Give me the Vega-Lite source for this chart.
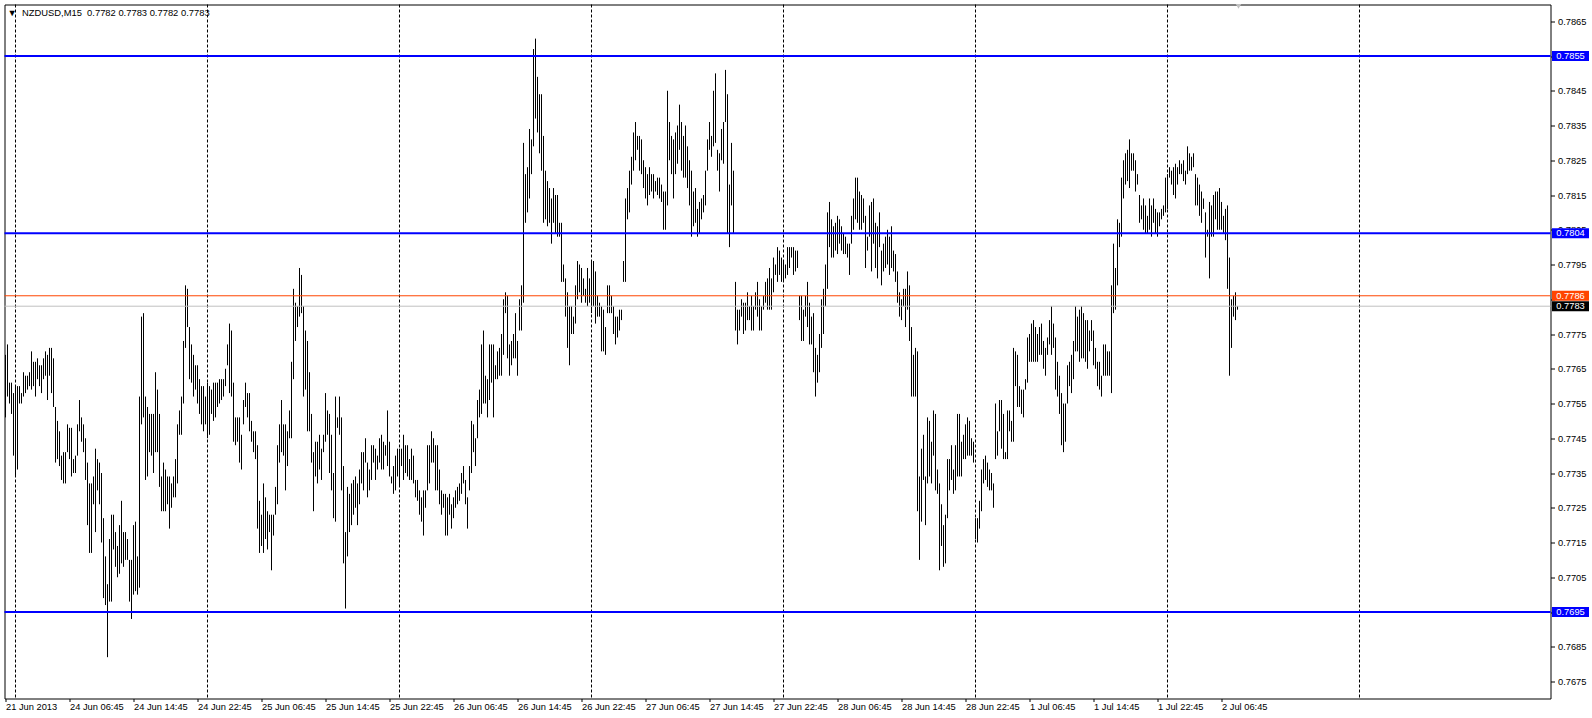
{
"$schema": "https://vega.github.io/schema/vega-lite/v6.json",
"width": 1546, "height": 694,
"autosize": {"type": "none"},
"padding": {"left": 4.5, "top": 4.5, "right": 41.5, "bottom": 19.5},
"background": "white",
"config": {"view": {"stroke": "black", "strokeWidth": 1, "fill": "white"}, "font": "Liberation Sans",
  "axis": {"labelOverlap": false, "labelFlush": false, "labelBound": false, "grid": false, "domain": false, "title": null, "tickColor": "black", "labelColor": "black", "labelFont": "Liberation Sans", "labelFontSize": 9.3}},
"title": {"text": "\u25bc\u00a0\u00a0NZDUSD,M15\u00a0\u00a00.7782 0.7783 0.7782 0.7783", "anchor": "start", "frame": "group", "orient": "top", "offset": -21, "dx": 3, "fontSize": 9.4, "font": "Liberation Sans", "fontWeight": "normal", "color": "black", "baseline": "alphabetic"},
"datasets": {
"grid": [{"i":5},{"i":101},{"i":197},{"i":293},{"i":389},{"i":485},{"i":581},{"i":677}],
"blue": [{"p":0.7855},{"p":0.7804},{"p":0.7695}],
"ask": [{"p":0.7786}],
"bid": [{"p":0.7783}],
"bars": [
{"i":0,"h":0.7769,"l":0.7751},{"i":1,"h":0.7772,"l":0.7757},{"i":2,"h":0.7761,"l":0.7755},{"i":3,"h":0.7761,"l":0.7752},{"i":4,"h":0.7758,"l":0.7740},{"i":5,"h":0.7760,"l":0.7734},{"i":6,"h":0.7760,"l":0.7736},{"i":7,"h":0.7760,"l":0.7755},{"i":8,"h":0.7758,"l":0.7755},{"i":9,"h":0.7764,"l":0.7757},
{"i":10,"h":0.7763,"l":0.7758},{"i":11,"h":0.7763,"l":0.7759},{"i":12,"h":0.7764,"l":0.7760},{"i":13,"h":0.7770,"l":0.7759},{"i":14,"h":0.7767,"l":0.7760},{"i":15,"h":0.7767,"l":0.7757},{"i":16,"h":0.7768,"l":0.7762},{"i":17,"h":0.7766,"l":0.7760},{"i":18,"h":0.7766,"l":0.7758},{"i":19,"h":0.7768,"l":0.7762},
{"i":20,"h":0.7770,"l":0.7763},{"i":21,"h":0.7769,"l":0.7756},{"i":22,"h":0.7771,"l":0.7763},{"i":23,"h":0.7771,"l":0.7758},{"i":24,"h":0.7768,"l":0.7754},{"i":25,"h":0.7754,"l":0.7738},{"i":26,"h":0.7750,"l":0.7739},{"i":27,"h":0.7747,"l":0.7737},{"i":28,"h":0.7740,"l":0.7733},{"i":29,"h":0.7741,"l":0.7732},
{"i":30,"h":0.7741,"l":0.7732},{"i":31,"h":0.7749,"l":0.7741},{"i":32,"h":0.7748,"l":0.7739},{"i":33,"h":0.7748,"l":0.7734},{"i":34,"h":0.7739,"l":0.7735},{"i":35,"h":0.7740,"l":0.7735},{"i":36,"h":0.7749,"l":0.7740},{"i":37,"h":0.7756,"l":0.7747},{"i":38,"h":0.7751,"l":0.7744},{"i":39,"h":0.7749,"l":0.7741},
{"i":40,"h":0.7745,"l":0.7733},{"i":41,"h":0.7738,"l":0.7720},{"i":42,"h":0.7732,"l":0.7712},{"i":43,"h":0.7732,"l":0.7712},{"i":44,"h":0.7734,"l":0.7726},{"i":45,"h":0.7742,"l":0.7718},{"i":46,"h":0.7739,"l":0.7730},{"i":47,"h":0.7738,"l":0.7726},{"i":48,"h":0.7735,"l":0.7715},{"i":49,"h":0.7722,"l":0.7699},
{"i":50,"h":0.7711,"l":0.7697},{"i":51,"h":0.7703,"l":0.7682},{"i":52,"h":0.7716,"l":0.7698},{"i":53,"h":0.7723,"l":0.7698},{"i":54,"h":0.7723,"l":0.7713},{"i":55,"h":0.7718,"l":0.7708},{"i":56,"h":0.7714,"l":0.7705},{"i":57,"h":0.7720,"l":0.7706},{"i":58,"h":0.7727,"l":0.7709},{"i":59,"h":0.7718,"l":0.7708},
{"i":60,"h":0.7718,"l":0.7710},{"i":61,"h":0.7716,"l":0.7710},{"i":62,"h":0.7710,"l":0.7698},{"i":63,"h":0.7710,"l":0.7693},{"i":64,"h":0.7720,"l":0.7700},{"i":65,"h":0.7721,"l":0.7701},{"i":66,"h":0.7711,"l":0.7700},{"i":67,"h":0.7757,"l":0.7702},{"i":68,"h":0.7780,"l":0.7749},{"i":69,"h":0.7781,"l":0.7751},
{"i":70,"h":0.7757,"l":0.7733},{"i":71,"h":0.7754,"l":0.7734},{"i":72,"h":0.7752,"l":0.7741},{"i":73,"h":0.7752,"l":0.7740},{"i":74,"h":0.7752,"l":0.7735},{"i":75,"h":0.7764,"l":0.7741},{"i":76,"h":0.7759,"l":0.7741},{"i":77,"h":0.7752,"l":0.7731},{"i":78,"h":0.7734,"l":0.7724},{"i":79,"h":0.7738,"l":0.7724},
{"i":80,"h":0.7736,"l":0.7724},{"i":81,"h":0.7734,"l":0.7726},{"i":82,"h":0.7734,"l":0.7719},{"i":83,"h":0.7732,"l":0.7725},{"i":84,"h":0.7734,"l":0.7728},{"i":85,"h":0.7739,"l":0.7728},{"i":86,"h":0.7749,"l":0.7732},{"i":87,"h":0.7753,"l":0.7746},{"i":88,"h":0.7757,"l":0.7746},{"i":89,"h":0.7773,"l":0.7755},
{"i":90,"h":0.7789,"l":0.7771},{"i":91,"h":0.7788,"l":0.7777},{"i":92,"h":0.7777,"l":0.7762},{"i":93,"h":0.7772,"l":0.7761},{"i":94,"h":0.7769,"l":0.7757},{"i":95,"h":0.7766,"l":0.7759},{"i":96,"h":0.7766,"l":0.7755},{"i":97,"h":0.7762,"l":0.7752},{"i":98,"h":0.7760,"l":0.7749},{"i":99,"h":0.7760,"l":0.7747},
{"i":100,"h":0.7757,"l":0.7749},{"i":101,"h":0.7761,"l":0.7745},{"i":102,"h":0.7760,"l":0.7746},{"i":103,"h":0.7759,"l":0.7752},{"i":104,"h":0.7761,"l":0.7750},{"i":105,"h":0.7761,"l":0.7751},{"i":106,"h":0.7761,"l":0.7754},{"i":107,"h":0.7762,"l":0.7755},{"i":108,"h":0.7762,"l":0.7756},{"i":109,"h":0.7762,"l":0.7757},
{"i":110,"h":0.7765,"l":0.7760},{"i":111,"h":0.7772,"l":0.7766},{"i":112,"h":0.7778,"l":0.7758},{"i":113,"h":0.7776,"l":0.7757},{"i":114,"h":0.7761,"l":0.7744},{"i":115,"h":0.7751,"l":0.7743},{"i":116,"h":0.7751,"l":0.7744},{"i":117,"h":0.7751,"l":0.7738},{"i":118,"h":0.7746,"l":0.7736},{"i":119,"h":0.7756,"l":0.7749},
{"i":120,"h":0.7761,"l":0.7754},{"i":121,"h":0.7758,"l":0.7751},{"i":122,"h":0.7758,"l":0.7747},{"i":123,"h":0.7750,"l":0.7744},{"i":124,"h":0.7747,"l":0.7741},{"i":125,"h":0.7747,"l":0.7739},{"i":126,"h":0.7743,"l":0.7719},{"i":127,"h":0.7727,"l":0.7712},{"i":128,"h":0.7723,"l":0.7714},{"i":129,"h":0.7732,"l":0.7712},
{"i":130,"h":0.7728,"l":0.7716},{"i":131,"h":0.7724,"l":0.7713},{"i":132,"h":0.7723,"l":0.7718},{"i":133,"h":0.7723,"l":0.7707},{"i":134,"h":0.7723,"l":0.7717},{"i":135,"h":0.7731,"l":0.7723},{"i":136,"h":0.7743,"l":0.7726},{"i":137,"h":0.7749,"l":0.7738},{"i":138,"h":0.7756,"l":0.7741},{"i":139,"h":0.7749,"l":0.7740},
{"i":140,"h":0.7749,"l":0.7730},{"i":141,"h":0.7747,"l":0.7737},{"i":142,"h":0.7753,"l":0.7745},{"i":143,"h":0.7767,"l":0.7745},{"i":144,"h":0.7788,"l":0.7762},{"i":145,"h":0.7784,"l":0.7773},{"i":146,"h":0.7783,"l":0.7777},{"i":147,"h":0.7794,"l":0.7780},{"i":148,"h":0.7792,"l":0.7781},{"i":149,"h":0.7783,"l":0.7757},
{"i":150,"h":0.7776,"l":0.7759},{"i":151,"h":0.7773,"l":0.7747},{"i":152,"h":0.7764,"l":0.7747},{"i":153,"h":0.7752,"l":0.7738},{"i":154,"h":0.7741,"l":0.7724},{"i":155,"h":0.7744,"l":0.7734},{"i":156,"h":0.7744,"l":0.7732},{"i":157,"h":0.7746,"l":0.7736},{"i":158,"h":0.7742,"l":0.7733},{"i":159,"h":0.7746,"l":0.7741},
{"i":160,"h":0.7758,"l":0.7744},{"i":161,"h":0.7753,"l":0.7746},{"i":162,"h":0.7752,"l":0.7735},{"i":163,"h":0.7746,"l":0.7730},{"i":164,"h":0.7735,"l":0.7722},{"i":165,"h":0.7757,"l":0.7721},{"i":166,"h":0.7751,"l":0.7748},{"i":167,"h":0.7757,"l":0.7746},{"i":168,"h":0.7751,"l":0.7730},{"i":169,"h":0.7737,"l":0.7709},
{"i":170,"h":0.7718,"l":0.7696},{"i":171,"h":0.7731,"l":0.7711},{"i":172,"h":0.7729,"l":0.7718},{"i":173,"h":0.7732,"l":0.7720},{"i":174,"h":0.7733,"l":0.7723},{"i":175,"h":0.7734,"l":0.7725},{"i":176,"h":0.7732,"l":0.7720},{"i":177,"h":0.7736,"l":0.7726},{"i":178,"h":0.7741,"l":0.7732},{"i":179,"h":0.7741,"l":0.7730},
{"i":180,"h":0.7745,"l":0.7738},{"i":181,"h":0.7738,"l":0.7728},{"i":182,"h":0.7736,"l":0.7730},{"i":183,"h":0.7743,"l":0.7733},{"i":184,"h":0.7743,"l":0.7738},{"i":185,"h":0.7742,"l":0.7733},{"i":186,"h":0.7740,"l":0.7736},{"i":187,"h":0.7745,"l":0.7738},{"i":188,"h":0.7746,"l":0.7736},{"i":189,"h":0.7744,"l":0.7736},
{"i":190,"h":0.7743,"l":0.7740},{"i":191,"h":0.7753,"l":0.7737},{"i":192,"h":0.7744,"l":0.7734},{"i":193,"h":0.7734,"l":0.7732},{"i":194,"h":0.7737,"l":0.7729},{"i":195,"h":0.7740,"l":0.7730},{"i":196,"h":0.7742,"l":0.7734},{"i":197,"h":0.7742,"l":0.7731},{"i":198,"h":0.7742,"l":0.7737},{"i":199,"h":0.7746,"l":0.7733},
{"i":200,"h":0.7743,"l":0.7735},{"i":201,"h":0.7743,"l":0.7734},{"i":202,"h":0.7739,"l":0.7733},{"i":203,"h":0.7742,"l":0.7733},{"i":204,"h":0.7740,"l":0.7732},{"i":205,"h":0.7733,"l":0.7728},{"i":206,"h":0.7733,"l":0.7727},{"i":207,"h":0.7730,"l":0.7723},{"i":208,"h":0.7728,"l":0.7721},{"i":209,"h":0.7730,"l":0.7717},
{"i":210,"h":0.7730,"l":0.7725},{"i":211,"h":0.7743,"l":0.7730},{"i":212,"h":0.7743,"l":0.7732},{"i":213,"h":0.7747,"l":0.7738},{"i":214,"h":0.7745,"l":0.7738},{"i":215,"h":0.7743,"l":0.7730},{"i":216,"h":0.7743,"l":0.7730},{"i":217,"h":0.7736,"l":0.7726},{"i":218,"h":0.7730,"l":0.7723},{"i":219,"h":0.7729,"l":0.7725},
{"i":220,"h":0.7729,"l":0.7717},{"i":221,"h":0.7728,"l":0.7717},{"i":222,"h":0.7729,"l":0.7723},{"i":223,"h":0.7726,"l":0.7719},{"i":224,"h":0.7728,"l":0.7722},{"i":225,"h":0.7730,"l":0.7725},{"i":226,"h":0.7731,"l":0.7726},{"i":227,"h":0.7732,"l":0.7727},{"i":228,"h":0.7735,"l":0.7729},{"i":229,"h":0.7737,"l":0.7732},
{"i":230,"h":0.7733,"l":0.7726},{"i":231,"h":0.7728,"l":0.7719},{"i":232,"h":0.7737,"l":0.7730},{"i":233,"h":0.7750,"l":0.7735},{"i":234,"h":0.7749,"l":0.7741},{"i":235,"h":0.7745,"l":0.7737},{"i":236,"h":0.7756,"l":0.7745},{"i":237,"h":0.7759,"l":0.7751},{"i":238,"h":0.7772,"l":0.7752},{"i":239,"h":0.7776,"l":0.7755},
{"i":240,"h":0.7763,"l":0.7755},{"i":241,"h":0.7762,"l":0.7751},{"i":242,"h":0.7772,"l":0.7756},{"i":243,"h":0.7772,"l":0.7761},{"i":244,"h":0.7772,"l":0.7751},{"i":245,"h":0.7766,"l":0.7762},{"i":246,"h":0.7770,"l":0.7762},{"i":247,"h":0.7771,"l":0.7763},{"i":248,"h":0.7775,"l":0.7763},{"i":249,"h":0.7785,"l":0.7769},
{"i":250,"h":0.7787,"l":0.7781},{"i":251,"h":0.7786,"l":0.7768},{"i":252,"h":0.7772,"l":0.7763},{"i":253,"h":0.7773,"l":0.7766},{"i":254,"h":0.7775,"l":0.7768},{"i":255,"h":0.7781,"l":0.7768},{"i":256,"h":0.7773,"l":0.7763},{"i":257,"h":0.7785,"l":0.7776},{"i":258,"h":0.7789,"l":0.7776},{"i":259,"h":0.7830,"l":0.7784},
{"i":260,"h":0.7821,"l":0.7807},{"i":261,"h":0.7823,"l":0.7810},{"i":262,"h":0.7834,"l":0.7814},{"i":263,"h":0.7831,"l":0.7821},{"i":264,"h":0.7857,"l":0.7829},{"i":265,"h":0.7860,"l":0.7837},{"i":266,"h":0.7849,"l":0.7833},{"i":267,"h":0.7844,"l":0.7827},{"i":268,"h":0.7844,"l":0.7822},{"i":269,"h":0.7832,"l":0.7807},
{"i":270,"h":0.7822,"l":0.7808},{"i":271,"h":0.7819,"l":0.7806},{"i":272,"h":0.7817,"l":0.7807},{"i":273,"h":0.7814,"l":0.7801},{"i":274,"h":0.7817,"l":0.7807},{"i":275,"h":0.7815,"l":0.7804},{"i":276,"h":0.7815,"l":0.7803},{"i":277,"h":0.7807,"l":0.7803},{"i":278,"h":0.7807,"l":0.7790},{"i":279,"h":0.7795,"l":0.7790},
{"i":280,"h":0.7791,"l":0.7780},{"i":281,"h":0.7787,"l":0.7771},{"i":282,"h":0.7783,"l":0.7766},{"i":283,"h":0.7783,"l":0.7775},{"i":284,"h":0.7780,"l":0.7775},{"i":285,"h":0.7789,"l":0.7778},{"i":286,"h":0.7796,"l":0.7785},{"i":287,"h":0.7795,"l":0.7787},{"i":288,"h":0.7794,"l":0.7784},{"i":289,"h":0.7791,"l":0.7786},
{"i":290,"h":0.7788,"l":0.7784},{"i":291,"h":0.7794,"l":0.7783},{"i":292,"h":0.7791,"l":0.7784},{"i":293,"h":0.7796,"l":0.7781},{"i":294,"h":0.7796,"l":0.7783},{"i":295,"h":0.7793,"l":0.7778},{"i":296,"h":0.7786,"l":0.7780},{"i":297,"h":0.7784,"l":0.7780},{"i":298,"h":0.7783,"l":0.7770},{"i":299,"h":0.7782,"l":0.7770},
{"i":300,"h":0.7777,"l":0.7769},{"i":301,"h":0.7789,"l":0.7781},{"i":302,"h":0.7789,"l":0.7781},{"i":303,"h":0.7786,"l":0.7781},{"i":304,"h":0.7783,"l":0.7775},{"i":305,"h":0.7780,"l":0.7772},{"i":306,"h":0.7780,"l":0.7774},{"i":307,"h":0.7782,"l":0.7776},{"i":308,"h":0.7782,"l":0.7779},{"i":309,"h":0.7796,"l":0.7790},
{"i":310,"h":0.7814,"l":0.7790},{"i":311,"h":0.7817,"l":0.7808},{"i":312,"h":0.7822,"l":0.7810},{"i":313,"h":0.7826,"l":0.7818},{"i":314,"h":0.7833,"l":0.7822},{"i":315,"h":0.7836,"l":0.7825},{"i":316,"h":0.7832,"l":0.7828},{"i":317,"h":0.7832,"l":0.7822},{"i":318,"h":0.7831,"l":0.7821},{"i":319,"h":0.7825,"l":0.7817},
{"i":320,"h":0.7823,"l":0.7814},{"i":321,"h":0.7821,"l":0.7812},{"i":322,"h":0.7823,"l":0.7815},{"i":323,"h":0.7821,"l":0.7816},{"i":324,"h":0.7821,"l":0.7814},{"i":325,"h":0.7819,"l":0.7816},{"i":326,"h":0.7820,"l":0.7815},{"i":327,"h":0.7820,"l":0.7814},{"i":328,"h":0.7818,"l":0.7813},{"i":329,"h":0.7816,"l":0.7805},
{"i":330,"h":0.7816,"l":0.7805},{"i":331,"h":0.7845,"l":0.7812},{"i":332,"h":0.7836,"l":0.7825},{"i":333,"h":0.7832,"l":0.7821},{"i":334,"h":0.7831,"l":0.7814},{"i":335,"h":0.7833,"l":0.7821},{"i":336,"h":0.7835,"l":0.7824},{"i":337,"h":0.7841,"l":0.7828},{"i":338,"h":0.7836,"l":0.7822},{"i":339,"h":0.7832,"l":0.7820},
{"i":340,"h":0.7835,"l":0.7820},{"i":341,"h":0.7829,"l":0.7817},{"i":342,"h":0.7825,"l":0.7812},{"i":343,"h":0.7822,"l":0.7803},{"i":344,"h":0.7816,"l":0.7806},{"i":345,"h":0.7817,"l":0.7807},{"i":346,"h":0.7811,"l":0.7803},{"i":347,"h":0.7813,"l":0.7804},{"i":348,"h":0.7814,"l":0.7808},{"i":349,"h":0.7815,"l":0.7810},
{"i":350,"h":0.7822,"l":0.7812},{"i":351,"h":0.7831,"l":0.7822},{"i":352,"h":0.7836,"l":0.7828},{"i":353,"h":0.7832,"l":0.7826},{"i":354,"h":0.7845,"l":0.7829},{"i":355,"h":0.7850,"l":0.7830},{"i":356,"h":0.7828,"l":0.7822},{"i":357,"h":0.7827,"l":0.7816},{"i":358,"h":0.7834,"l":0.7825},{"i":359,"h":0.7836,"l":0.7824},
{"i":360,"h":0.7851,"l":0.7836},{"i":361,"h":0.7844,"l":0.7804},{"i":362,"h":0.7818,"l":0.7800},{"i":363,"h":0.7830,"l":0.7812},{"i":364,"h":0.7822,"l":0.7804},{"i":365,"h":0.7790,"l":0.7776},{"i":366,"h":0.7782,"l":0.7772},{"i":367,"h":0.7782,"l":0.7776},{"i":368,"h":0.7785,"l":0.7780},{"i":369,"h":0.7784,"l":0.7775},
{"i":370,"h":0.7784,"l":0.7776},{"i":371,"h":0.7787,"l":0.7779},{"i":372,"h":0.7783,"l":0.7779},{"i":373,"h":0.7786,"l":0.7776},{"i":374,"h":0.7783,"l":0.7776},{"i":375,"h":0.7787,"l":0.7782},{"i":376,"h":0.7790,"l":0.7780},{"i":377,"h":0.7785,"l":0.7776},{"i":378,"h":0.7783,"l":0.7776},{"i":379,"h":0.7786,"l":0.7782},
{"i":380,"h":0.7790,"l":0.7784},{"i":381,"h":0.7791,"l":0.7782},{"i":382,"h":0.7794,"l":0.7782},{"i":383,"h":0.7791,"l":0.7782},{"i":384,"h":0.7797,"l":0.7787},{"i":385,"h":0.7795,"l":0.7792},{"i":386,"h":0.7800,"l":0.7790},{"i":387,"h":0.7799,"l":0.7792},{"i":388,"h":0.7797,"l":0.7790},{"i":389,"h":0.7796,"l":0.7790},
{"i":390,"h":0.7795,"l":0.7791},{"i":391,"h":0.7800,"l":0.7792},{"i":392,"h":0.7800,"l":0.7794},{"i":393,"h":0.7800,"l":0.7797},{"i":394,"h":0.7800,"l":0.7792},{"i":395,"h":0.7799,"l":0.7793},{"i":396,"h":0.7799,"l":0.7794},{"i":397,"h":0.7786,"l":0.7779},{"i":398,"h":0.7786,"l":0.7773},{"i":399,"h":0.7782,"l":0.7773},
{"i":400,"h":0.7786,"l":0.7780},{"i":401,"h":0.7790,"l":0.7777},{"i":402,"h":0.7784,"l":0.7772},{"i":403,"h":0.7780,"l":0.7772},{"i":404,"h":0.7781,"l":0.7764},{"i":405,"h":0.7771,"l":0.7757},{"i":406,"h":0.7769,"l":0.7761},{"i":407,"h":0.7775,"l":0.7764},{"i":408,"h":0.7785,"l":0.7771},{"i":409,"h":0.7788,"l":0.7775},
{"i":410,"h":0.7795,"l":0.7783},{"i":411,"h":0.7810,"l":0.7788},{"i":412,"h":0.7813,"l":0.7800},{"i":413,"h":0.7808,"l":0.7797},{"i":414,"h":0.7806,"l":0.7797},{"i":415,"h":0.7807,"l":0.7799},{"i":416,"h":0.7809,"l":0.7798},{"i":417,"h":0.7808,"l":0.7801},{"i":418,"h":0.7806,"l":0.7799},{"i":419,"h":0.7804,"l":0.7798},
{"i":420,"h":0.7803,"l":0.7798},{"i":421,"h":0.7801,"l":0.7797},{"i":422,"h":0.7801,"l":0.7792},{"i":423,"h":0.7809,"l":0.7801},{"i":424,"h":0.7814,"l":0.7805},{"i":425,"h":0.7820,"l":0.7808},{"i":426,"h":0.7820,"l":0.7807},{"i":427,"h":0.7816,"l":0.7805},{"i":428,"h":0.7815,"l":0.7805},{"i":429,"h":0.7814,"l":0.7807},
{"i":430,"h":0.7809,"l":0.7794},{"i":431,"h":0.7803,"l":0.7799},{"i":432,"h":0.7812,"l":0.7803},{"i":433,"h":0.7813,"l":0.7793},{"i":434,"h":0.7814,"l":0.7801},{"i":435,"h":0.7807,"l":0.7794},{"i":436,"h":0.7806,"l":0.7791},{"i":437,"h":0.7810,"l":0.7800},{"i":438,"h":0.7799,"l":0.7789},{"i":439,"h":0.7801,"l":0.7793},
{"i":440,"h":0.7803,"l":0.7794},{"i":441,"h":0.7805,"l":0.7795},{"i":442,"h":0.7803,"l":0.7792},{"i":443,"h":0.7806,"l":0.7794},{"i":444,"h":0.7799,"l":0.7793},{"i":445,"h":0.7798,"l":0.7790},{"i":446,"h":0.7793,"l":0.7784},{"i":447,"h":0.7787,"l":0.7780},{"i":448,"h":0.7785,"l":0.7779},{"i":449,"h":0.7788,"l":0.7783},
{"i":450,"h":0.7788,"l":0.7777},{"i":451,"h":0.7793,"l":0.7782},{"i":452,"h":0.7789,"l":0.7773},{"i":453,"h":0.7777,"l":0.7757},{"i":454,"h":0.7769,"l":0.7757},{"i":455,"h":0.7771,"l":0.7757},{"i":456,"h":0.7770,"l":0.7724},{"i":457,"h":0.7734,"l":0.7710},{"i":458,"h":0.7742,"l":0.7721},{"i":459,"h":0.7746,"l":0.7733},
{"i":460,"h":0.7734,"l":0.7720},{"i":461,"h":0.7751,"l":0.7732},{"i":462,"h":0.7750,"l":0.7734},{"i":463,"h":0.7744,"l":0.7732},{"i":464,"h":0.7753,"l":0.7740},{"i":465,"h":0.7752,"l":0.7730},{"i":466,"h":0.7736,"l":0.7729},{"i":467,"h":0.7732,"l":0.7707},{"i":468,"h":0.7726,"l":0.7714},{"i":469,"h":0.7720,"l":0.7708},
{"i":470,"h":0.7723,"l":0.7709},{"i":471,"h":0.7739,"l":0.7722},{"i":472,"h":0.7739,"l":0.7730},{"i":473,"h":0.7743,"l":0.7733},{"i":474,"h":0.7736,"l":0.7729},{"i":475,"h":0.7743,"l":0.7730},{"i":476,"h":0.7752,"l":0.7734},{"i":477,"h":0.7752,"l":0.7734},{"i":478,"h":0.7744,"l":0.7734},{"i":479,"h":0.7746,"l":0.7739},
{"i":480,"h":0.7749,"l":0.7739},{"i":481,"h":0.7751,"l":0.7740},{"i":482,"h":0.7750,"l":0.7740},{"i":483,"h":0.7745,"l":0.7740},{"i":484,"h":0.7744,"l":0.7738},{"i":485,"h":0.7722,"l":0.7716},{"i":486,"h":0.7722,"l":0.7715},{"i":487,"h":0.7727,"l":0.7719},{"i":488,"h":0.7736,"l":0.7724},{"i":489,"h":0.7739,"l":0.7732},
{"i":490,"h":0.7740,"l":0.7733},{"i":491,"h":0.7738,"l":0.7731},{"i":492,"h":0.7736,"l":0.7730},{"i":493,"h":0.7735,"l":0.7730},{"i":494,"h":0.7732,"l":0.7725},{"i":495,"h":0.7755,"l":0.7739},{"i":496,"h":0.7747,"l":0.7740},{"i":497,"h":0.7756,"l":0.7747},{"i":498,"h":0.7756,"l":0.7742},{"i":499,"h":0.7752,"l":0.7739},
{"i":500,"h":0.7741,"l":0.7739},{"i":501,"h":0.7753,"l":0.7739},{"i":502,"h":0.7753,"l":0.7747},{"i":503,"h":0.7750,"l":0.7744},{"i":504,"h":0.7771,"l":0.7744},{"i":505,"h":0.7770,"l":0.7760},{"i":506,"h":0.7769,"l":0.7754},{"i":507,"h":0.7760,"l":0.7754},{"i":508,"h":0.7759,"l":0.7752},{"i":509,"h":0.7759,"l":0.7751},
{"i":510,"h":0.7762,"l":0.7759},{"i":511,"h":0.7774,"l":0.7761},{"i":512,"h":0.7775,"l":0.7767},{"i":513,"h":0.7778,"l":0.7767},{"i":514,"h":0.7779,"l":0.7767},{"i":515,"h":0.7777,"l":0.7767},{"i":516,"h":0.7775,"l":0.7767},{"i":517,"h":0.7777,"l":0.7769},{"i":518,"h":0.7778,"l":0.7769},{"i":519,"h":0.7773,"l":0.7765},
{"i":520,"h":0.7771,"l":0.7763},{"i":521,"h":0.7774,"l":0.7769},{"i":522,"h":0.7779,"l":0.7772},{"i":523,"h":0.7783,"l":0.7769},{"i":524,"h":0.7778,"l":0.7771},{"i":525,"h":0.7774,"l":0.7759},{"i":526,"h":0.7767,"l":0.7757},{"i":527,"h":0.7763,"l":0.7752},{"i":528,"h":0.7758,"l":0.7743},{"i":529,"h":0.7755,"l":0.7741},
{"i":530,"h":0.7755,"l":0.7744},{"i":531,"h":0.7766,"l":0.7755},{"i":532,"h":0.7767,"l":0.7760},{"i":533,"h":0.7769,"l":0.7758},{"i":534,"h":0.7773,"l":0.7762},{"i":535,"h":0.7783,"l":0.7770},{"i":536,"h":0.7780,"l":0.7770},{"i":537,"h":0.7782,"l":0.7767},{"i":538,"h":0.7783,"l":0.7768},{"i":539,"h":0.7781,"l":0.7768},
{"i":540,"h":0.7779,"l":0.7767},{"i":541,"h":0.7779,"l":0.7765},{"i":542,"h":0.7776,"l":0.7770},{"i":543,"h":0.7779,"l":0.7773},{"i":544,"h":0.7776,"l":0.7766},{"i":545,"h":0.7771,"l":0.7765},{"i":546,"h":0.7767,"l":0.7760},{"i":547,"h":0.7767,"l":0.7759},{"i":548,"h":0.7763,"l":0.7757},{"i":549,"h":0.7772,"l":0.7763},
{"i":550,"h":0.7772,"l":0.7763},{"i":551,"h":0.7770,"l":0.7763},{"i":552,"h":0.7770,"l":0.7763},{"i":553,"h":0.7789,"l":0.7758},{"i":554,"h":0.7801,"l":0.7781},{"i":555,"h":0.7794,"l":0.7782},{"i":556,"h":0.7808,"l":0.7789},{"i":557,"h":0.7807,"l":0.7800},{"i":558,"h":0.7820,"l":0.7803},{"i":559,"h":0.7825,"l":0.7814},
{"i":560,"h":0.7827,"l":0.7818},{"i":561,"h":0.7828,"l":0.7819},{"i":562,"h":0.7831,"l":0.7817},{"i":563,"h":0.7827,"l":0.7822},{"i":564,"h":0.7827,"l":0.7822},{"i":565,"h":0.7825,"l":0.7816},{"i":566,"h":0.7821,"l":0.7818},{"i":567,"h":0.7815,"l":0.7807},{"i":568,"h":0.7812,"l":0.7808},{"i":569,"h":0.7814,"l":0.7805},
{"i":570,"h":0.7812,"l":0.7804},{"i":571,"h":0.7809,"l":0.7804},{"i":572,"h":0.7814,"l":0.7805},{"i":573,"h":0.7812,"l":0.7803},{"i":574,"h":0.7814,"l":0.7807},{"i":575,"h":0.7811,"l":0.7804},{"i":576,"h":0.7810,"l":0.7803},{"i":577,"h":0.7810,"l":0.7806},{"i":578,"h":0.7811,"l":0.7808},{"i":579,"h":0.7812,"l":0.7809},
{"i":580,"h":0.7820,"l":0.7810},{"i":581,"h":0.7821,"l":0.7811},{"i":582,"h":0.7823,"l":0.7820},{"i":583,"h":0.7822,"l":0.7818},{"i":584,"h":0.7823,"l":0.7815},{"i":585,"h":0.7824,"l":0.7814},{"i":586,"h":0.7823,"l":0.7818},{"i":587,"h":0.7825,"l":0.7821},{"i":588,"h":0.7824,"l":0.7821},{"i":589,"h":0.7825,"l":0.7819},
{"i":590,"h":0.7822,"l":0.7818},{"i":591,"h":0.7829,"l":0.7821},{"i":592,"h":0.7827,"l":0.7822},{"i":593,"h":0.7826,"l":0.7822},{"i":594,"h":0.7827,"l":0.7823},{"i":595,"h":0.7821,"l":0.7812},{"i":596,"h":0.7820,"l":0.7812},{"i":597,"h":0.7818,"l":0.7809},{"i":598,"h":0.7816,"l":0.7807},{"i":599,"h":0.7814,"l":0.7811},
{"i":600,"h":0.7810,"l":0.7797},{"i":601,"h":0.7805,"l":0.7803},{"i":602,"h":0.7813,"l":0.7791},{"i":603,"h":0.7812,"l":0.7803},{"i":604,"h":0.7815,"l":0.7803},{"i":605,"h":0.7816,"l":0.7808},{"i":606,"h":0.7816,"l":0.7805},{"i":607,"h":0.7817,"l":0.7805},{"i":608,"h":0.7813,"l":0.7805},{"i":609,"h":0.7809,"l":0.7804},
{"i":610,"h":0.7811,"l":0.7802},{"i":611,"h":0.7812,"l":0.7788},{"i":612,"h":0.7797,"l":0.7763},{"i":613,"h":0.7785,"l":0.7771},{"i":614,"h":0.7786,"l":0.7780},{"i":615,"h":0.7787,"l":0.7779},{"i":616,"h":0.7783,"l":0.7782}
]},
"layer": [
{"data": {"name": "grid"}, "mark": {"type": "rule", "color": "black", "strokeWidth": 1, "strokeDash": [3, 2]},
 "encoding": {"x": {"field": "i", "type": "quantitative",
   "scale": {"domain": [-0.5, 772.5], "nice": false, "zero": false},
   "axis": {"orient": "bottom", "values": [0,32,64,96,128,160,192,224,256,288,320,352,384,416,448,480,512,544,576,608], "tickCount": 60,
     "labelExpr": "['21 Jun 2013','24 Jun 06:45','24 Jun 14:45','24 Jun 22:45','25 Jun 06:45','25 Jun 14:45','25 Jun 22:45','26 Jun 06:45','26 Jun 14:45','26 Jun 22:45','27 Jun 06:45','27 Jun 14:45','27 Jun 22:45','28 Jun 06:45','28 Jun 14:45','28 Jun 22:45','1 Jul 06:45','1 Jul 14:45','1 Jul 22:45','2 Jul 06:45'][round(datum.value/32)]",
     "title": null, "grid": false, "domain": false, "ticks": true, "tickSize": 3, "tickColor": "black", "tickWidth": 1,
     "labelAlign": "left", "labelBaseline": "top", "labelPadding": 1, "labelDx": 1, "labelFont": "Liberation Sans", "labelFontSize": 9.3, "labelColor": "black", "labelOverlap": false, "labelFlush": false, "labelBound": false}}}},
{"data": {"name": "bars"}, "mark": {"type": "rule", "color": "black", "strokeWidth": 1},
 "encoding": {"x": {"field": "i", "type": "quantitative"},
   "y": {"field": "l", "type": "quantitative",
     "scale": {"domain": [0.767011, 0.786982], "nice": false, "zero": false},
     "axis": {"orient": "right", "values": [0.7675,0.7685,0.7695,0.7705,0.7715,0.7725,0.7735,0.7745,0.7755,0.7765,0.7775,0.7785,0.7795,0.7805,0.7815,0.7825,0.7835,0.7845,0.7855,0.7865], "tickCount": 60,
       "labelExpr": "indexof(['0.7855','0.7785','0.7695'], format(datum.value, '.4f')) >= 0 ? '' : format(datum.value, '.4f')",
       "title": null, "grid": false, "domain": false, "tickSize": 4, "tickColor": "black", "labelPadding": 3, "labelFont": "Liberation Sans", "labelFontSize": 9.3, "labelColor": "black", "labelOverlap": false, "labelFlush": false, "labelBound": false}},
   "y2": {"field": "h"}}},
{"data": {"name": "blue"}, "mark": {"type": "rule", "color": "#0000ff", "strokeWidth": 2},
 "encoding": {"y": {"field": "p", "type": "quantitative"}}},
{"data": {"name": "bid"}, "mark": {"type": "rule", "color": "#c0c0c0", "strokeWidth": 1},
 "encoding": {"y": {"field": "p", "type": "quantitative"}}},
{"data": {"name": "ask"}, "mark": {"type": "rule", "color": "#ff4500", "strokeWidth": 1},
 "encoding": {"y": {"field": "p", "type": "quantitative"}}},
{"data": {"name": "blue"}, "mark": {"type": "tick", "orient": "horizontal", "size": 37, "thickness": 10, "color": "#0000ff", "opacity": 1},
 "encoding": {"x": {"datum": 782.5, "type": "quantitative"}, "y": {"field": "p", "type": "quantitative"}}},
{"data": {"name": "ask"}, "mark": {"type": "tick", "orient": "horizontal", "size": 37, "thickness": 10, "color": "#ff4500", "opacity": 1},
 "encoding": {"x": {"datum": 782.5, "type": "quantitative"}, "y": {"field": "p", "type": "quantitative"}}},
{"data": {"name": "bid"}, "mark": {"type": "tick", "orient": "horizontal", "size": 37, "thickness": 10, "color": "black", "opacity": 1},
 "encoding": {"x": {"datum": 782.5, "type": "quantitative"}, "y": {"field": "p", "type": "quantitative"}}},
{"data": {"name": "blue"}, "mark": {"type": "text", "color": "white", "font": "Liberation Sans", "fontSize": 9.3, "align": "center", "baseline": "middle"},
 "encoding": {"x": {"datum": 782.5, "type": "quantitative"}, "y": {"field": "p", "type": "quantitative"}, "text": {"field": "p", "type": "quantitative", "format": ".4f"}}},
{"data": {"name": "ask"}, "mark": {"type": "text", "color": "white", "font": "Liberation Sans", "fontSize": 9.3, "align": "center", "baseline": "middle"},
 "encoding": {"x": {"datum": 782.5, "type": "quantitative"}, "y": {"field": "p", "type": "quantitative"}, "text": {"field": "p", "type": "quantitative", "format": ".4f"}}},
{"data": {"name": "bid"}, "mark": {"type": "text", "color": "white", "font": "Liberation Sans", "fontSize": 9.3, "align": "center", "baseline": "middle"},
 "encoding": {"x": {"datum": 782.5, "type": "quantitative"}, "y": {"field": "p", "type": "quantitative"}, "text": {"field": "p", "type": "quantitative", "format": ".4f"}}},
{"data": {"values": [{}]}, "mark": {"type": "point", "shape": "triangle-down", "filled": true, "size": 30, "color": "#c0c0c0", "opacity": 1},
 "encoding": {"x": {"datum": 616.5, "type": "quantitative"}, "y": {"datum": 0.78693, "type": "quantitative"}}}
]
}
